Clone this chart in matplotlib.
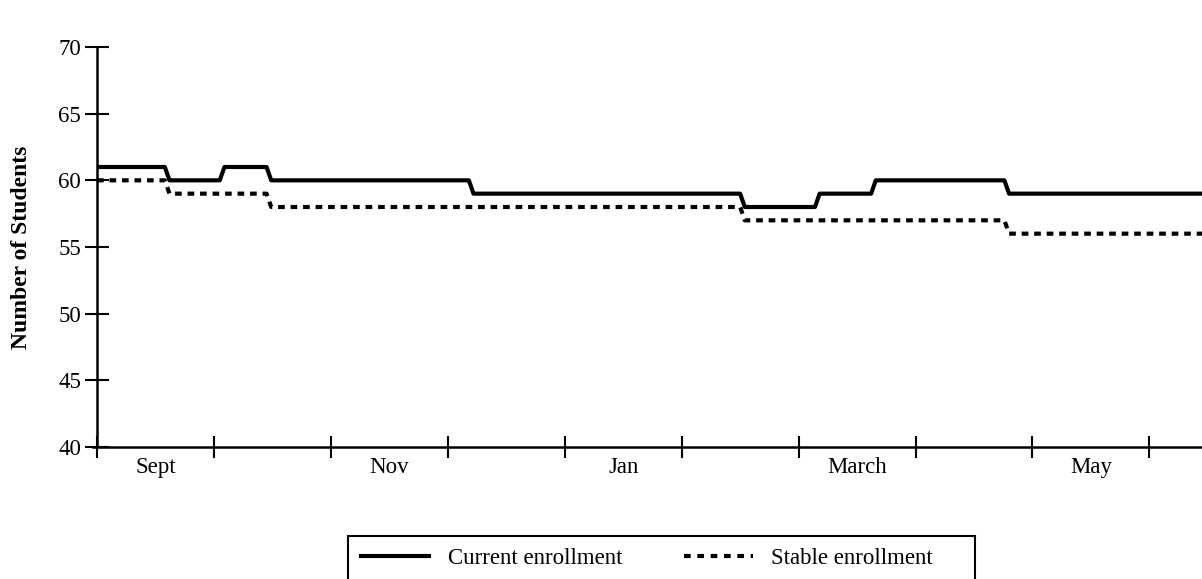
import matplotlib
matplotlib.use("Agg")
import matplotlib.pyplot as plt
from matplotlib.patches import Rectangle
from matplotlib.lines import Line2D

plt.rcParams['font.family'] = ['Liberation Serif', 'DejaVu Serif']

# months counted from the start of September
ay_isaretleri = [0, 1, 2, 3, 4, 5, 6, 7, 8, 9]
ay_etiketleri = ['Sept', 'Nov', 'Jan', 'March', 'May']
etiket_yerleri = [0.5, 2.5, 4.5, 6.5, 8.5]

# current enrollment: level changes (month, new value)
mevcut_gecis = [0.0, 0.6, 1.07, 1.47, 3.2, 5.52, 6.16, 6.64, 7.78]
mevcut_deger = [61, 60, 61, 60, 59, 58, 59, 60, 59]

# stable enrollment
sabit_gecis = [0.0, 0.6, 1.47, 5.52, 7.78]
sabit_deger = [60, 59, 58, 57, 56]

son_ay = 9.45
egim = 0.04  # small ramp at every step, like the hand drawn chart


def basamak(gecisler, degerler):
    xs, ys = [gecisler[0]], [degerler[0]]
    for i in range(1, len(gecisler)):
        xs.append(gecisler[i] - egim / 2)
        ys.append(degerler[i - 1])
        xs.append(gecisler[i] + egim / 2)
        ys.append(degerler[i])
    xs.append(son_ay)
    ys.append(degerler[-1])
    return xs, ys


fig = plt.figure(figsize=(12.02, 5.79), dpi=100)
ax = fig.add_axes([97 / 1202, 132 / 579, 1105 / 1202, 400 / 579])

x1, y1 = basamak(mevcut_gecis, mevcut_deger)
x2, y2 = basamak(sabit_gecis, sabit_deger)
ax.plot(x2, y2, color='black', lw=3, linestyle=(0, (1.6, 1.4)))
ax.plot(x1, y1, color='black', lw=3, solid_joinstyle='round')

ax.set_xlim(0, son_ay)
ax.set_ylim(40, 70)
ax.set_yticks([40, 45, 50, 55, 60, 65, 70])
ax.set_xticks(ay_isaretleri)
ax.set_xticklabels([])
ax.set_xticks(etiket_yerleri, minor=True)
ax.set_xticklabels(ay_etiketleri, minor=True)
ax.tick_params(axis='x', which='minor', length=0, labelsize=16.5, pad=7)
ax.tick_params(axis='x', which='major', direction='inout', length=16, width=1.5)
ax.tick_params(axis='y', direction='inout', length=17, width=1.5, labelsize=16.5, pad=3)

for s in ['top', 'right']:
    ax.spines[s].set_visible(False)
ax.spines['left'].set_linewidth(1.8)
ax.spines['bottom'].set_linewidth(1.8)
ax.spines['bottom'].set_bounds(-0.03, son_ay)

ax.set_ylabel('Number of Students', fontsize=17, fontweight='bold', labelpad=19)

# legend box, cut off at the bottom of the page
fig.patches.append(Rectangle((348 / 1202, -0.05), (975 - 348) / 1202, (579 - 536) / 579 + 0.05,
                             transform=fig.transFigure, fill=False, lw=1.5, ec='black'))
tutamaclar = [Line2D([0], [0], color='black', lw=3),
              Line2D([0], [0], color='black', lw=3, linestyle=(0, (1.6, 1.6)))]
fig.legend(tutamaclar, ['Current enrollment', 'Stable enrollment'], ncol=2,
           loc='center left', bbox_to_anchor=(340 / 1202, 1 - 558 / 579),
           frameon=False, fontsize=16.5, handlelength=3.0, columnspacing=2.7, handletextpad=0.8)

fig.savefig('out.png', dpi=100)
